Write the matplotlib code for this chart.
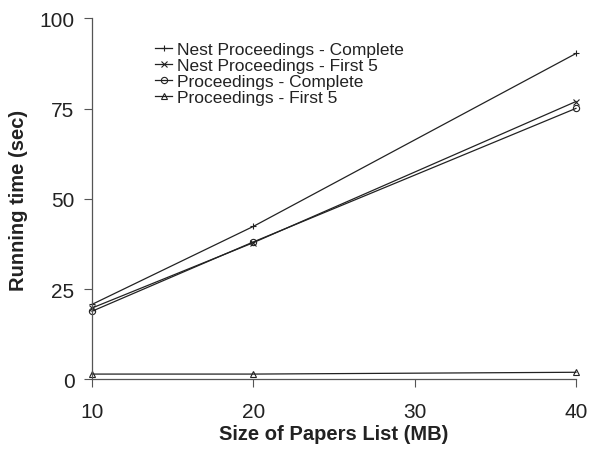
import matplotlib
matplotlib.use("Agg")
import matplotlib.pyplot as plt

plt.rcParams['font.family'] = ['Liberation Sans', 'DejaVu Sans']

sizes = [10, 20, 40]
nest_complete = [20.8, 42.4, 90.3]
nest_first5 = [19.8, 37.9, 77.0]
proc_complete = [18.9, 38.1, 75.1]
proc_first5 = [1.5, 1.5, 2.0]
series_labels = ["Nest Proceedings - Complete", "Nest Proceedings - First 5",
                 "Proceedings - Complete", "Proceedings - First 5"]
xticks = [10, 20, 30, 40]
yticks = [0, 25, 50, 75, 100]

fig = plt.figure(figsize=(5.9, 4.52), dpi=100)
ax = fig.add_axes([0.1559, 0.1582, 0.8203, 0.7987])

col = '#222222'
markers = ['+', 'x', 'o', '^']
for vals, m, lab in zip([nest_complete, nest_first5, proc_complete, proc_first5], markers, series_labels):
    ax.plot(sizes, vals, color=col, linewidth=0.9, marker=m, markersize=4.5,
            markerfacecolor='none', markeredgecolor=col, markeredgewidth=0.8, label=lab,
            clip_on=False)

ax.set_xlim(10, 40)
ax.set_ylim(0, 100)
ax.set_xticks(xticks)
ax.set_yticks(yticks)
for s in ['top', 'right']:
    ax.spines[s].set_visible(False)
for s in ['left', 'bottom']:
    ax.spines[s].set_color('#555555')
    ax.spines[s].set_linewidth(0.9)
ax.tick_params(direction='out', length=5.5, width=0.8, color='#555555', labelsize=15,
               labelcolor='#222222')
ax.tick_params(axis='x', pad=11)
ax.tick_params(axis='y', pad=7)
ax.set_xlabel('Size of Papers List (MB)', fontsize=14.5, fontweight='bold', labelpad=2,
              color='#222222')
ax.set_ylabel('Running time (sec)', fontsize=14.5, fontweight='bold', labelpad=8,
              color='#222222')

leg = ax.legend(loc='upper left', bbox_to_anchor=(0.13, 0.936), frameon=False, fontsize=12.5,
                handlelength=1.0, handletextpad=0.3, labelspacing=0.05, borderpad=0.0,
                borderaxespad=0.0)
for t in leg.get_texts():
    t.set_color('#222222')

fig.savefig('out.png', dpi=100)
